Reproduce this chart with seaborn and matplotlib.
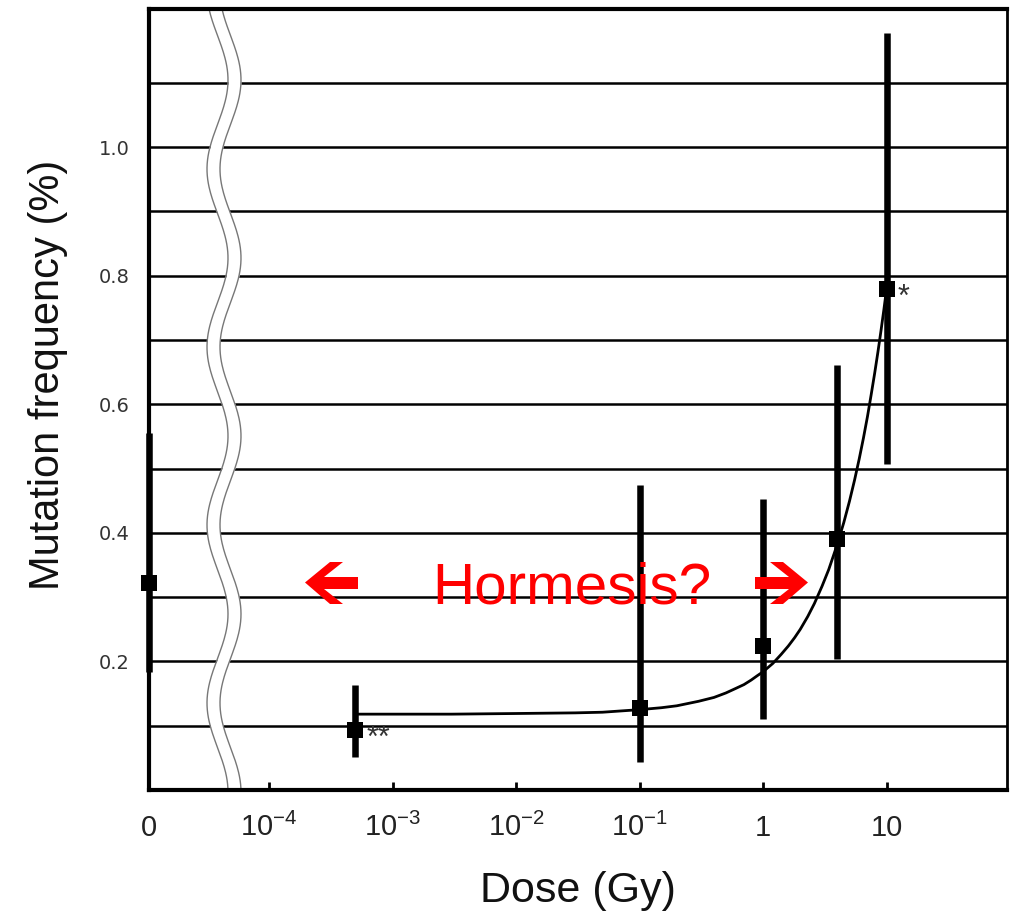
import numpy as np
import pandas as pd
import matplotlib
matplotlib.use("Agg")
import matplotlib.pyplot as plt
import seaborn as sns
from matplotlib.patches import Polygon
from matplotlib.ticker import NullLocator

# ---------------- data ----------------
dose_gy = [0.0, 5e-4, 0.1, 1.0, 4.0, 10.0]
mut_freq = [0.322, 0.093, 0.128, 0.224, 0.391, 0.779]
err_low = [0.183, 0.051, 0.043, 0.111, 0.204, 0.507]
err_high = [0.555, 0.163, 0.475, 0.452, 0.661, 1.178]
signif = ["", "**", "", "", "", "*"]

fit_dose = [5e-4, 1e-3, 3e-3, 1e-2, 0.03, 0.05, 0.1, 0.15, 0.2, 0.3, 0.4, 0.5,
            0.6, 0.7, 0.8, 0.9, 1.0, 1.2, 1.4, 1.6, 1.8, 2.0, 2.3, 2.6, 3.0,
            3.4, 4.0, 4.5, 5.0, 5.5, 6.0, 6.5, 7.0, 7.5, 8.0, 8.5, 9.0, 9.5, 10.0]
fit_freq = [0.118, 0.118, 0.118, 0.119, 0.120, 0.121, 0.125, 0.128, 0.131,
            0.138, 0.144, 0.151, 0.158, 0.164, 0.171, 0.178, 0.184, 0.197,
            0.211, 0.224, 0.237, 0.250, 0.270, 0.290, 0.317, 0.343, 0.383,
            0.416, 0.449, 0.482, 0.515, 0.548, 0.581, 0.615, 0.648, 0.681,
            0.714, 0.747, 0.780]

x_tick_doses = [1e-4, 1e-3, 1e-2, 1e-1, 1.0, 10.0]
x_tick_labels = ["0", r"$\mathregular{10^{-4}}$", r"$\mathregular{10^{-3}}$",
                 r"$\mathregular{10^{-2}}$", r"$\mathregular{10^{-1}}$", "1", "10"]
y_ticks = [0.1, 0.2, 0.3, 0.4, 0.5, 0.6, 0.7, 0.8, 0.9, 1.0, 1.1]
y_tick_labels = ["", "0.2", "", "0.4", "", "0.6", "", "0.8", "", "1.0", ""]

x_label = "Dose (Gy)"
y_label = "Mutation frequency (%)"
note = "Hormesis?"

# ---------------- style ----------------
sns.set_theme(style="white")
plt.rcParams["font.family"] = ["Liberation Sans", "DejaVu Sans"]
plt.rcParams["mathtext.fontset"] = "custom"
plt.rcParams["mathtext.rm"] = "Liberation Sans"

W, H = 1013, 914
fig = plt.figure(figsize=(W / 100, H / 100), dpi=100)
fig.patch.set_facecolor("white")
ax = fig.add_axes([149 / W, 1 - 790 / H, (1007 - 149) / W, (790 - 9) / H])
ax.set_facecolor("white")

XMIN, XMAX = 10 ** -4.973, 10 ** 1.975
ax.set_xscale("log")
ax.set_xlim(XMIN, XMAX)
ax.set_ylim(0, 1.215)

df = pd.DataFrame({"dose": dose_gy, "freq": mut_freq, "lo": err_low, "hi": err_high})
df["plot_dose"] = df["dose"].where(df["dose"] > 0, XMIN)   # "0" sits left of the axis break
fit_df = pd.DataFrame({"dose": fit_dose, "freq": fit_freq})

# grid
ax.set_axisbelow(True)
ax.yaxis.grid(True, color="black", lw=1.8)
ax.xaxis.grid(False)

# error bars
ax.errorbar(df["plot_dose"], df["freq"],
            yerr=[df["freq"] - df["lo"], df["hi"] - df["freq"]],
            fmt="none", ecolor="black", elinewidth=4.7, capsize=0,
            zorder=3, clip_on=False)

# fitted curve
sns.lineplot(data=fit_df, x="dose", y="freq", color="black", lw=2.0,
             ax=ax, zorder=3, estimator=None)

# markers
sns.scatterplot(data=df, x="plot_dose", y="freq", marker="s", s=135,
                color="black", linewidth=0, ax=ax, zorder=4, legend=False)
ax.collections[-1].set_clip_on(False)

# significance marks
for d, f, s in zip(df["plot_dose"], df["freq"], signif):
    if s:
        ax.annotate(s, (d, f), xytext=(8, -6), textcoords="offset points",
                    ha="left", va="center", fontsize=22, color="#333333")

# axis break (double wavy line) in pixel coordinates
yy = np.linspace(9, 790, 400)
xc = 217.5 + 10.5 * np.cos(2 * np.pi * (yy - 80) / 178)
fy = 1 - yy / H
fl = xc / W
fr = (xc + 13) / W
ax.fill_betweenx(fy, fl, fr, transform=fig.transFigure, color="white",
                 lw=0, zorder=1.5)
ax.plot(fl, fy, transform=fig.transFigure, color="#777777", lw=1.0, zorder=1.6)
ax.plot(fr, fy, transform=fig.transFigure, color="#777777", lw=1.0, zorder=1.6)

# ticks
ax.xaxis.set_minor_locator(NullLocator())
ax.tick_params(axis="x", which="major", direction="in", length=6, width=2,
               color="black", pad=33, bottom=True)
ax.set_xticks([XMIN] + x_tick_doses, labels=x_tick_labels, fontsize=21,
              va="baseline", color="#222222")
ax.tick_params(axis="y", length=0, pad=13.7)
ax.set_yticks(y_ticks, labels=y_tick_labels, fontsize=14,
              fontfamily="DejaVu Sans", color="#333333")

# spines
for side, lw in [("left", 3), ("bottom", 3), ("top", 3), ("right", 2)]:
    ax.spines[side].set_visible(True)
    ax.spines[side].set_color("black")
    ax.spines[side].set_linewidth(lw)

# labels
ax.set_ylabel(y_label, fontsize=30, va="center", color="#111111")
ax.yaxis.set_label_coords(-0.1177, 0.532)
ax.set_xlabel(x_label, fontsize=31, va="baseline", color="#111111")
ax.xaxis.set_label_coords(0.5, (790 - 902) / 781)

# annotation: Hormesis? with arrows
ax.text(572 / W, 1 - 604 / H, note, transform=fig.transFigure, color="#ff0000",
        fontsize=42, ha="center", va="baseline", zorder=5)

left_arrow_px = [(305, 582.5), (330, 562), (343, 562), (324, 577), (358, 577),
                 (358, 589), (324, 589), (343, 604), (330, 604)]
cx_l, cx_r = 331.5, 781.5
for pts in (left_arrow_px, [(cx_r - (x - cx_l), y) for x, y in left_arrow_px]):
    poly = Polygon([(x / W, 1 - y / H) for x, y in pts], closed=True,
                   transform=fig.transFigure, facecolor="#ff0000",
                   edgecolor="none", zorder=5)
    ax.add_patch(poly)

fig.savefig("out.png", dpi=100, facecolor="white")
